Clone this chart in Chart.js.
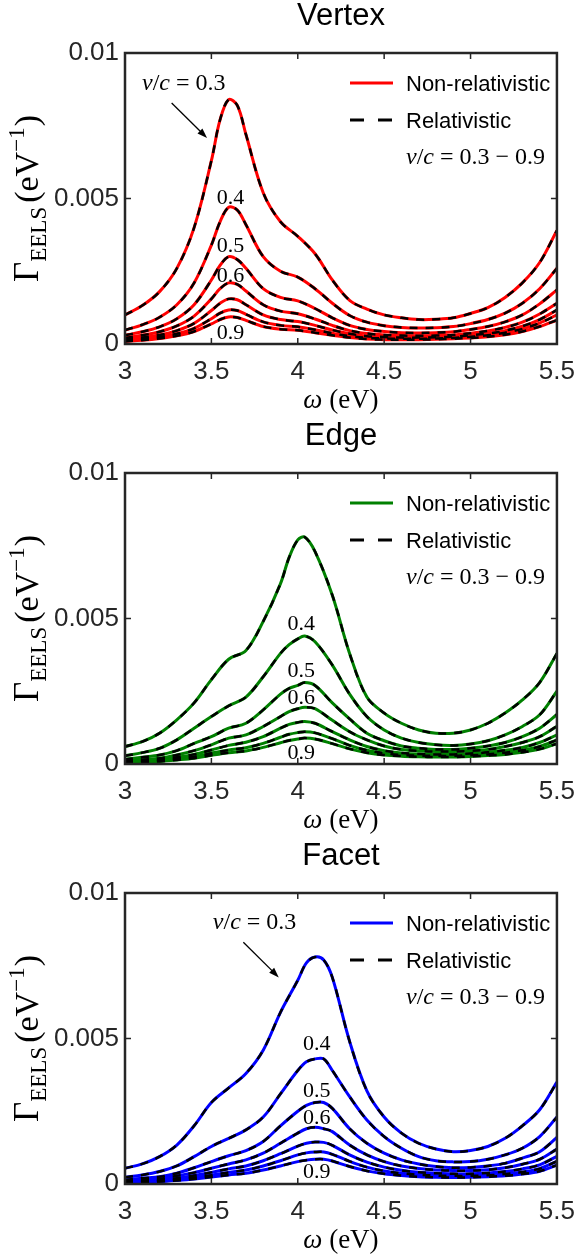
<!DOCTYPE html>
<html>
<head>
<meta charset="utf-8">
<script src="https://cdn.jsdelivr.net/npm/chart.js@4.4.1/dist/chart.umd.min.js"></script>
<style>
  body { margin: 0; background: #fff; }
  .panel { position: absolute; left: 0; width: 587px; height: 420px; }
</style>
</head>
<body>
<div class="panel" style="top:0px"><canvas id="vertexChart" width="587" height="420"></canvas></div>
<div class="panel" style="top:420px"><canvas id="edgeChart" width="587" height="420"></canvas></div>
<div class="panel" style="top:840px"><canvas id="facetChart" width="587" height="420"></canvas></div>
<script>
// ---- data ----
const speeds = ['0.3', '0.4', '0.5', '0.6', '0.7', '0.8', '0.9'];
const curveLabels = ['0.4', '0.5', '0.6', '0.9'];
const xTicks = [3, 3.5, 4, 4.5, 5, 5.5];
const yTicks = [0, 0.005, 0.01];

// Vertex
const vertexX = [3.0, 3.1, 3.2, 3.3, 3.4, 3.5, 3.55, 3.6, 3.65, 3.7, 3.8, 3.9, 4.0, 4.1, 4.2, 4.3, 4.4, 4.5, 4.6, 4.7, 4.8, 4.9, 5.0, 5.1, 5.2, 5.3, 5.4, 5.5];
const vertex03 = [0.00100, 0.00132, 0.00180, 0.0026, 0.0040, 0.0063, 0.0077, 0.0084, 0.0082, 0.0072, 0.0052, 0.0042, 0.0037, 0.0031, 0.0022, 0.0015, 0.0012, 0.0010, 0.00090, 0.00084, 0.00085, 0.00090, 0.00105, 0.00125, 0.0016, 0.0021, 0.0028, 0.0039];
const vertex04 = [0.00048, 0.00066, 0.00092, 0.00135, 0.0021, 0.0034, 0.0042, 0.0047, 0.0046, 0.0041, 0.0030, 0.0025, 0.0023, 0.0019, 0.0014, 0.00098, 0.00075, 0.00063, 0.00057, 0.00055, 0.00056, 0.00060, 0.00070, 0.00084, 0.00106, 0.00140, 0.00190, 0.0026];
const vertex05 = [0.00030, 0.00042, 0.00059, 0.00087, 0.00135, 0.0022, 0.0027, 0.0030, 0.0029, 0.0026, 0.0019, 0.0016, 0.00148, 0.00122, 0.00090, 0.00064, 0.00050, 0.00043, 0.00039, 0.00038, 0.00039, 0.00042, 0.00050, 0.00060, 0.00076, 0.00100, 0.00138, 0.00186];
const vertex06 = [0.00021, 0.00030, 0.00042, 0.00062, 0.00096, 0.00155, 0.0019, 0.0021, 0.00205, 0.00182, 0.00135, 0.00113, 0.00104, 0.00086, 0.00064, 0.00046, 0.00036, 0.00031, 0.00029, 0.00028, 0.00029, 0.00031, 0.00037, 0.00045, 0.00057, 0.00075, 0.00103, 0.00140];
const vertex07 = [0.00016, 0.00022, 0.00031, 0.00046, 0.00071, 0.00115, 0.00140, 0.00155, 0.00152, 0.00135, 0.00100, 0.00084, 0.00077, 0.00064, 0.00048, 0.00035, 0.00027, 0.00024, 0.00022, 0.00022, 0.00023, 0.00025, 0.00030, 0.00036, 0.00046, 0.00061, 0.00084, 0.00117];
const vertex08 = [0.00012, 0.00017, 0.00024, 0.00035, 0.00054, 0.00087, 0.00106, 0.00117, 0.00115, 0.00102, 0.00076, 0.00064, 0.00059, 0.00049, 0.00037, 0.00027, 0.00021, 0.00019, 0.00018, 0.00018, 0.00019, 0.00021, 0.00025, 0.00030, 0.00039, 0.00052, 0.00072, 0.00100];
const vertex09 = [0.00009, 0.00013, 0.00019, 0.00028, 0.00043, 0.00069, 0.00084, 0.00093, 0.00091, 0.00081, 0.00060, 0.00051, 0.00047, 0.00039, 0.00030, 0.00022, 0.00017, 0.00015, 0.00015, 0.00015, 0.00016, 0.00018, 0.00021, 0.00025, 0.00032, 0.00043, 0.00060, 0.00082];

// Edge
const edgeX = [3.0, 3.1, 3.2, 3.3, 3.4, 3.5, 3.6, 3.7, 3.8, 3.9, 3.95, 4.0, 4.04, 4.1, 4.2, 4.3, 4.4, 4.5, 4.6, 4.7, 4.8, 4.9, 5.0, 5.1, 5.2, 5.3, 5.4, 5.5];
const edge03 = [0.00060, 0.00077, 0.00106, 0.00152, 0.0021, 0.0029, 0.0036, 0.0039, 0.0049, 0.0062, 0.0071, 0.0077, 0.0078, 0.0073, 0.0058, 0.0038, 0.0023, 0.00175, 0.0014, 0.00117, 0.00106, 0.00106, 0.00117, 0.0014, 0.00175, 0.0022, 0.0028, 0.0038];
const edge04 = [0.00028, 0.00039, 0.00054, 0.00083, 0.00123, 0.00163, 0.0020, 0.0023, 0.0030, 0.0038, 0.0041, 0.0043, 0.0044, 0.0042, 0.0034, 0.0024, 0.00163, 0.00117, 0.00089, 0.00074, 0.00066, 0.00064, 0.00069, 0.0008, 0.0010, 0.00129, 0.00169, 0.0025];
const edge05 = [0.00016, 0.00023, 0.00031, 0.00046, 0.00071, 0.00094, 0.00123, 0.0014, 0.00186, 0.0024, 0.0026, 0.0027, 0.0028, 0.0027, 0.0021, 0.00155, 0.00106, 0.0008, 0.00062, 0.00054, 0.0005, 0.0005, 0.00054, 0.00062, 0.00074, 0.00094, 0.00123, 0.0017];
const edge06 = [0.0001, 0.00015, 0.0002, 0.00031, 0.00046, 0.00066, 0.00089, 0.0010, 0.00129, 0.00163, 0.0018, 0.0019, 0.00195, 0.0019, 0.0015, 0.00111, 0.00083, 0.00062, 0.0005, 0.00045, 0.00043, 0.00043, 0.00045, 0.0005, 0.0006, 0.00074, 0.00094, 0.0013];
const edge07 = [0.00007, 0.0001, 0.00015, 0.00023, 0.00033, 0.00048, 0.00064, 0.00075, 0.00094, 0.00123, 0.00136, 0.00143, 0.00146, 0.0014, 0.00111, 0.00083, 0.0006, 0.00046, 0.00038, 0.00034, 0.00033, 0.00033, 0.00036, 0.0004, 0.00047, 0.00057, 0.00074, 0.0010];
const edge08 = [0.00005, 0.00008, 0.00011, 0.00017, 0.00025, 0.00037, 0.00048, 0.00056, 0.00071, 0.00092, 0.00102, 0.00108, 0.00111, 0.00107, 0.00087, 0.00064, 0.00047, 0.00037, 0.00031, 0.00029, 0.00028, 0.00028, 0.0003, 0.00033, 0.00039, 0.00047, 0.0006, 0.00083];
const edge09 = [0.00004, 0.00006, 0.00009, 0.00014, 0.0002, 0.0003, 0.00039, 0.00045, 0.00057, 0.00073, 0.00081, 0.00086, 0.00089, 0.00086, 0.0007, 0.00052, 0.00039, 0.00031, 0.00027, 0.00025, 0.00024, 0.00024, 0.00026, 0.00029, 0.00033, 0.0004, 0.00051, 0.0007];

// Facet
const facetX = [3.0, 3.1, 3.2, 3.3, 3.4, 3.5, 3.6, 3.7, 3.8, 3.9, 4.0, 4.05, 4.1, 4.15, 4.2, 4.3, 4.4, 4.5, 4.6, 4.7, 4.8, 4.9, 5.0, 5.1, 5.2, 5.3, 5.4, 5.5];
const facet03 = [0.00054, 0.00069, 0.00094, 0.00134, 0.0020, 0.0028, 0.0033, 0.0038, 0.0046, 0.0059, 0.0070, 0.0076, 0.0078, 0.0077, 0.0071, 0.0049, 0.0032, 0.0023, 0.00175, 0.0014, 0.0012, 0.00111, 0.00115, 0.00129, 0.00157, 0.0020, 0.00255, 0.0035];
const facet04 = [0.00023, 0.00031, 0.00043, 0.00062, 0.00094, 0.00129, 0.00157, 0.00186, 0.0023, 0.0031, 0.0039, 0.0042, 0.0043, 0.0043, 0.0039, 0.0030, 0.0022, 0.00163, 0.00123, 0.00094, 0.0008, 0.00076, 0.00077, 0.00085, 0.0010, 0.00123, 0.00163, 0.0023];
const facet05 = [0.00014, 0.0002, 0.00025, 0.00037, 0.00056, 0.00077, 0.00097, 0.00115, 0.00146, 0.0020, 0.0025, 0.0027, 0.0028, 0.0028, 0.0026, 0.0019, 0.0014, 0.00106, 0.00083, 0.00069, 0.0006, 0.00056, 0.00057, 0.00062, 0.00071, 0.00089, 0.00111, 0.0016];
const facet06 = [0.0001, 0.00014, 0.00018, 0.00028, 0.00039, 0.00054, 0.00069, 0.00083, 0.00106, 0.0014, 0.00175, 0.0019, 0.00195, 0.0019, 0.0018, 0.00134, 0.0010, 0.00077, 0.00062, 0.00053, 0.00048, 0.00046, 0.00046, 0.00049, 0.00056, 0.00068, 0.00085, 0.0012];
const facet07 = [0.00007, 0.0001, 0.00013, 0.0002, 0.00029, 0.0004, 0.00052, 0.00062, 0.0008, 0.00104, 0.0013, 0.0014, 0.00144, 0.00143, 0.00133, 0.0010, 0.00075, 0.00058, 0.00047, 0.0004, 0.00037, 0.00035, 0.00035, 0.00038, 0.00043, 0.00052, 0.00066, 0.00095];
const facet08 = [0.00005, 0.00007, 0.0001, 0.00015, 0.00022, 0.0003, 0.0004, 0.00048, 0.00062, 0.0008, 0.0010, 0.00107, 0.0011, 0.0011, 0.00102, 0.00078, 0.00058, 0.00045, 0.00037, 0.00032, 0.00029, 0.00028, 0.00028, 0.0003, 0.00034, 0.00041, 0.00053, 0.00078];
const facet09 = [0.00004, 0.00006, 0.00008, 0.00012, 0.00017, 0.00024, 0.00031, 0.00037, 0.00048, 0.00062, 0.00077, 0.00082, 0.00085, 0.00085, 0.00079, 0.0006, 0.00045, 0.00035, 0.00029, 0.00025, 0.00023, 0.00022, 0.00023, 0.00025, 0.00028, 0.00034, 0.00044, 0.00065];

// ---- drawing ----
const SANS = '"Liberation Sans", Arial, sans-serif';
const SERIF = '"Liberation Serif", "Times New Roman", serif';
const AXIS = '#262626';

function mathText(ctx, parts, x, y, size, align) {
    const widths = parts.map(p => {
        ctx.font = (p[1] ? 'italic ' : '') + size + 'px ' + SERIF;
        return ctx.measureText(p[0]).width;
    });
    const total = widths.reduce((a, b) => a + b, 0);
    let cx = align === 'center' ? x - total / 2 : x;
    ctx.textAlign = 'left';
    parts.forEach((p, i) => {
        ctx.font = (p[1] ? 'italic ' : '') + size + 'px ' + SERIF;
        ctx.fillText(p[0], cx, y);
        cx += widths[i];
    });
}

function arrow(ctx, x1, y1, x2, y2) {
    const a = Math.atan2(y2 - y1, x2 - x1);
    ctx.strokeStyle = '#000';
    ctx.fillStyle = '#000';
    ctx.lineWidth = 1.3;
    ctx.setLineDash([]);
    ctx.beginPath();
    ctx.moveTo(x1, y1);
    ctx.lineTo(x2 - 6 * Math.cos(a), y2 - 6 * Math.sin(a));
    ctx.stroke();
    ctx.beginPath();
    ctx.moveTo(x2, y2);
    ctx.lineTo(x2 - 10 * Math.cos(a) + 3.5 * Math.sin(a), y2 - 10 * Math.sin(a) - 3.5 * Math.cos(a));
    ctx.lineTo(x2 - 10 * Math.cos(a) - 3.5 * Math.sin(a), y2 - 10 * Math.sin(a) + 3.5 * Math.cos(a));
    ctx.closePath();
    ctx.fill();
}

const panelDecor = {
    id: 'panelDecor',
    afterDraw(chart, args, opts) {
        const ctx = chart.ctx;
        const area = chart.chartArea;
        const xs = chart.scales.x, ys = chart.scales.y;
        ctx.save();

        // box + inward ticks on all sides
        ctx.strokeStyle = AXIS;
        ctx.lineWidth = 1.5;
        ctx.beginPath();
        xTicks.forEach(v => {
            const px = xs.getPixelForValue(v);
            ctx.moveTo(px, area.bottom); ctx.lineTo(px, area.bottom - 6);
            ctx.moveTo(px, area.top); ctx.lineTo(px, area.top + 6);
        });
        yTicks.forEach(v => {
            const py = ys.getPixelForValue(v);
            ctx.moveTo(area.left, py); ctx.lineTo(area.left + 6, py);
            ctx.moveTo(area.right, py); ctx.lineTo(area.right - 6, py);
        });
        ctx.stroke();
        ctx.lineWidth = 2.5;
        ctx.strokeRect(area.left, area.top, area.right - area.left, area.bottom - area.top);

        // title
        const cx = (area.left + area.right) / 2;
        ctx.fillStyle = '#000';
        ctx.font = '31px ' + SANS;
        ctx.textAlign = 'center';
        ctx.textBaseline = 'alphabetic';
        ctx.fillText(opts.title, cx, 25);

        // x label
        mathText(ctx, [['\u03C9', true], [' (eV)', false]], cx, 408, 27, 'center');

        // y label, rotated
        ctx.save();
        ctx.translate(38, (area.top + area.bottom) / 2);
        ctx.rotate(-Math.PI / 2);
        const yParts = [['\u0393', 35, 0], ['EELS', 23, 8], ['(eV', 34, 0], ['\u22121', 23, -14], [')', 34, 0]];
        const gaps = [0, 0, 4, 0, 1];
        let total = 0;
        const ws = yParts.map((p, i) => {
            ctx.font = p[1] + 'px ' + SERIF;
            const w = ctx.measureText(p[0]).width;
            total += w + gaps[i];
            return w;
        });
        let tx = -total / 2;
        ctx.textAlign = 'left';
        yParts.forEach((p, i) => {
            tx += gaps[i];
            ctx.font = p[1] + 'px ' + SERIF;
            ctx.fillText(p[0], tx, p[2]);
            tx += ws[i];
        });
        ctx.restore();

        // legend
        const lx = area.left + 225, tx0 = area.left + 281;
        const r1 = area.top + 30, r2 = area.top + 67, r3 = area.top + 104;
        ctx.lineWidth = 3;
        ctx.strokeStyle = opts.color;
        ctx.beginPath(); ctx.moveTo(lx, r1); ctx.lineTo(lx + 43, r1); ctx.stroke();
        ctx.strokeStyle = '#000';
        ctx.setLineDash([14, 14]);
        ctx.beginPath(); ctx.moveTo(lx, r2); ctx.lineTo(lx + 43, r2); ctx.stroke();
        ctx.setLineDash([]);
        ctx.fillStyle = '#000';
        ctx.font = '22px ' + SANS;
        ctx.textAlign = 'left';
        ctx.fillText('Non-relativistic', tx0, r1 + 8);
        ctx.fillText('Relativistic', tx0, r2 + 8);
        mathText(ctx, [['v', true], ['/', false], ['c', true], [' = 0.3 \u2212 0.9', false]], tx0, r3 + 7, 24, 'left');

        // curve labels
        opts.labelPos.forEach((p, i) => {
            mathText(ctx, [[curveLabels[i], false]], xs.getPixelForValue(p[0]), ys.getPixelForValue(p[1]) + 7, 22, 'center');
        });

        // v/c = 0.3 annotation with arrow
        if (opts.note) {
            const n = opts.note;
            mathText(ctx, [['v', true], ['/', false], ['c', true], [' = 0.3', false]],
                xs.getPixelForValue(n.text[0]), ys.getPixelForValue(n.text[1]) + 7, 24, 'center');
            arrow(ctx, xs.getPixelForValue(n.from[0]), ys.getPixelForValue(n.from[1]),
                xs.getPixelForValue(n.to[0]), ys.getPixelForValue(n.to[1]));
        }
        ctx.restore();
    }
};

const makePanel = (canvasId, title, color, xValues, series, labelPos, note) => {
    const datasets = [];
    series.forEach((values, i) => {
        const points = xValues.map((x, j) => ({ x: x, y: values[j] }));
        datasets.push({
            label: 'Non-relativistic v/c=' + speeds[i],
            data: points,
            borderColor: color,
            borderWidth: 3,
            pointRadius: 0,
            tension: 0.35,
            order: 1
        });
        datasets.push({
            label: 'Relativistic v/c=' + speeds[i],
            data: points,
            borderColor: '#000',
            borderWidth: 2.5,
            borderDash: [8, 8],
            pointRadius: 0,
            tension: 0.35,
            order: 0
        });
    });

    new Chart(document.getElementById(canvasId), {
        type: 'line',
        data: { datasets: datasets },
        options: {
            responsive: false,
            animation: false,
            devicePixelRatio: 1,
            layout: { padding: { top: 53, right: 20, left: 0, bottom: 0 } },
            plugins: {
                legend: { display: false },
                tooltip: { enabled: false },
                panelDecor: { title: title, color: color, labelPos: labelPos, note: note }
            },
            scales: {
                x: {
                    type: 'linear', min: 3, max: 5.5,
                    grid: { display: false, drawTicks: false },
                    border: { display: false },
                    ticks: { stepSize: 0.5, padding: 12, color: AXIS, maxRotation: 0, autoSkip: false,
                        font: { family: SANS, size: 26 }, callback: v => String(v) },
                    afterFit: s => { s.height = 76; }
                },
                y: {
                    type: 'linear', min: 0, max: 0.01,
                    grid: { display: false, drawTicks: false },
                    border: { display: false },
                    ticks: { padding: 6, color: AXIS, font: { family: SANS, size: 26 },
                        callback: v => String(+v.toFixed(3)) },
                    afterBuildTicks: s => { s.ticks = yTicks.map(v => ({ value: v })); },
                    afterFit: s => { s.width = 125; }
                }
            }
        },
        plugins: [panelDecor]
    });
};

makePanel('vertexChart', 'Vertex', '#ff0000', vertexX,
    [vertex03, vertex04, vertex05, vertex06, vertex07, vertex08, vertex09],
    [[3.61, 0.00505], [3.61, 0.0034], [3.61, 0.00237], [3.61, 0.00041]],
    { text: [3.34, 0.00897], from: [3.27, 0.00828], to: [3.475, 0.00708] });

makePanel('edgeChart', 'Edge', '#008000', edgeX,
    [edge03, edge04, edge05, edge06, edge07, edge08, edge09],
    [[4.02, 0.00486], [4.02, 0.00324], [4.02, 0.00231], [4.02, 0.00041]],
    null);

makePanel('facetChart', 'Facet', '#0000ff', facetX,
    [facet03, facet04, facet05, facet06, facet07, facet08, facet09],
    [[4.11, 0.00486], [4.11, 0.00324], [4.11, 0.00231], [4.11, 0.00045]],
    { text: [3.75, 0.009], from: [3.685, 0.00831], to: [3.89, 0.0071] });
</script>
</body>
</html>
